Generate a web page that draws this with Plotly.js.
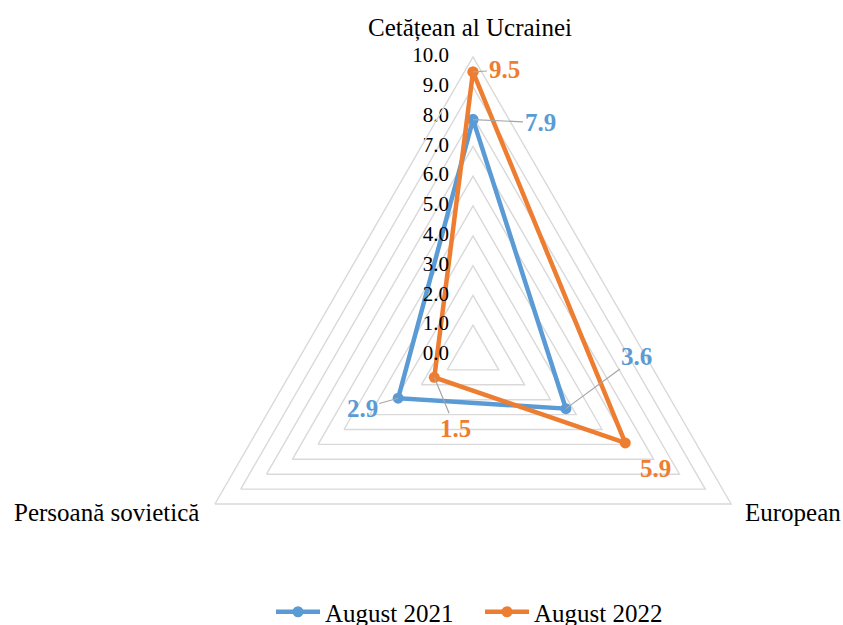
<!DOCTYPE html>
<html>
<head>
<meta charset="utf-8">
<script src="https://cdn.plot.ly/plotly-3.0.1.min.js"></script>
<style>
html,body{margin:0;padding:0;overflow:hidden;background:#fff;}
#chart{width:843px;height:700px;}
</style>
</head>
<body>
<div id="chart"></div>
<script>
// ---- data ----
const categories = ["Cetățean al Ucrainei", "European", "Persoană sovietică"];
const seriesNames = ["August 2021", "August 2022"];
const values2021 = [7.9, 3.6, 2.9];
const values2022 = [9.5, 5.9, 1.5];
const radialTicks = [0, 1, 2, 3, 4, 5, 6, 7, 8, 9, 10];

// ---- style / layout ----
const W = 843, H = 700;
const CX = 473, CY = 355, R = 298;        // polar centre & radius in px
const RMAX = 10;
const colors = ["#5B9BD5", "#ED7D31"];
const serif = "Liberation Serif, Times New Roman, serif";

// label offsets (px, text centre relative to point) and leader flags
const labelOffsets = [
  [[67, 3], [71, -52], [-36, 10]],
  [[31, -2], [30, 26], [21, 51]]
];
const leaders = [[true, true, true], [true, false, true]];

// category label placement relative to the outer vertex (px)
const catPlacement = [
  {xanchor: "center", yanchor: "middle", xshift: -3, yshift: 29},
  {xanchor: "left", yanchor: "middle", xshift: 12, yshift: -8},
  {xanchor: "right", yanchor: "middle", xshift: -14, yshift: -8}
];

const domX = [(CX - R) / W, (CX + R) / W];
const domY = [(H - (CY + R)) / H, (H - (CY - R)) / H];

function closed(arr) { return arr.concat([arr[0]]); }

const allValues = [values2021, values2022];
const traces = allValues.map((vals, s) => ({
  type: "scatterpolar",
  name: seriesNames[s],
  r: closed(vals),
  theta: closed(categories),
  mode: "lines+markers",
  line: {color: colors[s], width: 4.5},
  marker: {color: colors[s], size: 11},
  cliponaxis: false,
  hoverinfo: "skip"
}));

// radial tick labels (placed through the polar scale)
traces.push({
  type: "scatterpolar",
  r: radialTicks.map(t => Math.max(t, 0.001)),
  theta: radialTicks.map(() => categories[0]),
  mode: "markers+text",
  text: radialTicks.map(t => t.toFixed(1)),
  textposition: "middle left",
  textfont: {family: serif, size: 21, color: "#000"},
  marker: {size: 37, color: "rgba(0,0,0,0)"},
  showlegend: false,
  cliponaxis: false,
  hoverinfo: "skip"
});

function toPaper(v, i) {
  const ang = (90 - 360 / categories.length * i) * Math.PI / 180;
  const px = CX + v / RMAX * R * Math.cos(ang);
  const py = CY - v / RMAX * R * Math.sin(ang);
  return [px / W, 1 - py / H];
}

const annotations = [];
// category labels at the outer vertices
categories.forEach((c, i) => {
  const p = toPaper(RMAX, i);
  annotations.push(Object.assign({
    xref: "paper", yref: "paper", x: p[0], y: p[1],
    text: c, showarrow: false,
    font: {family: serif, size: 25, color: "#000"}
  }, catPlacement[i]));
});
// data labels
allValues.forEach((vals, s) => {
  vals.forEach((v, i) => {
    const p = toPaper(v, i);
    annotations.push({
      xref: "paper", yref: "paper", x: p[0], y: p[1],
      text: v.toFixed(1),
      showarrow: true,
      ax: labelOffsets[s][i][0], ay: labelOffsets[s][i][1],
      arrowhead: 0, arrowwidth: 1.2,
      arrowcolor: leaders[s][i] ? "#a6a6a6" : "rgba(0,0,0,0)",
      standoff: 0, startstandoff: 0,
      font: {family: serif, size: 25, color: colors[s], weight: "bold"}
    });
  });
});

const layout = {
  width: W, height: H,
  margin: {l: 0, r: 0, t: 0, b: 0},
  paper_bgcolor: "#fff",
  font: {family: serif, color: "#000"},
  polar: {
    domain: {x: domX, y: domY},
    gridshape: "linear",
    bgcolor: "rgba(0,0,0,0)",
    radialaxis: {
      range: [0, RMAX],
      tickvals: radialTicks,
      showticklabels: false,
      ticks: "",
      showline: false,
      gridcolor: "#d9d9d9",
      gridwidth: 1.4
    },
    angularaxis: {
      type: "category",
      categoryarray: categories,
      rotation: 90,
      direction: "clockwise",
      showgrid: false,
      showticklabels: false,
      ticks: "",
      linecolor: "#d9d9d9",
      linewidth: 1.4
    }
  },
  showlegend: true,
  legend: {
    orientation: "h",
    x: 480 / W, xanchor: "center",
    y: 1 - 612 / H, yanchor: "middle",
    entrywidth: 150,
    entrywidthmode: "pixels",
    itemwidth: 44,
    font: {family: serif, size: 25, color: "#000"},
    bgcolor: "rgba(0,0,0,0)"
  },
  annotations: annotations
};

Plotly.newPlot("chart", traces, layout, {staticPlot: true, displayModeBar: false});
</script>
</body>
</html>
